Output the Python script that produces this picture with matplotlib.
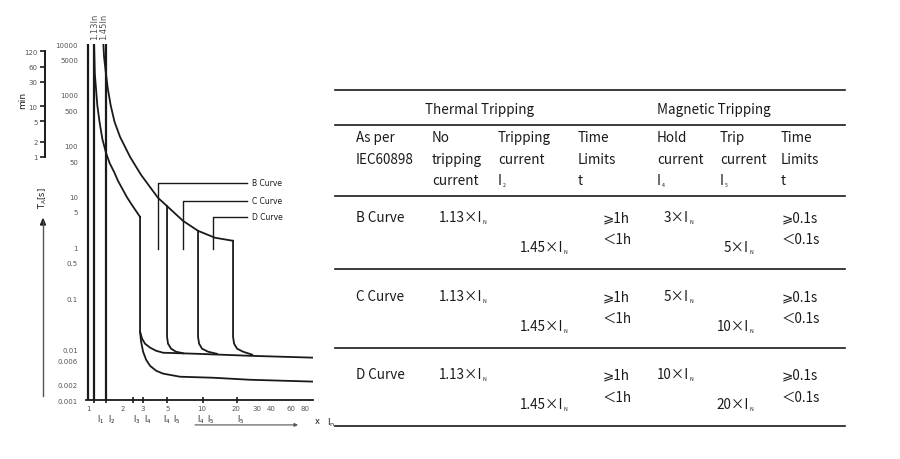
import matplotlib
matplotlib.use("Agg")
import matplotlib.pyplot as plt
from matplotlib.ticker import NullLocator, NullFormatter, FixedLocator
from matplotlib.transforms import blended_transform_factory

W, H = 900, 460
INK = "#1a1a1a"
GREY = "#555555"
TFONT = ["Noto Sans CJK SC", "DejaVu Sans"]

# ---- characteristic curves (current in multiples of In, time in s) ----
limit_lines = [1.0, 1.13, 1.45]

thermal_lo_i = [1.13, 1.147, 1.175, 1.207, 1.261, 1.335, 1.430, 1.544, 1.691,
                1.833, 2.000, 2.198, 2.447, 2.858]
thermal_lo_t = [10000, 2575, 1306, 614, 294, 136, 75.5, 45.9, 30.6,
                20.3, 14.2, 9.64, 6.65, 3.99]

thermal_hi_i = [1.362, 1.382, 1.430, 1.492, 1.582, 1.708, 1.909, 2.336, 2.917,
                4.11, 5.24, 6.81, 9.22, 13.0, 18.7]
thermal_hi_t = [10000, 5557, 2818, 1306, 614, 294, 149, 60.3, 26.7,
                9.43, 5.73, 3.33, 2.12, 1.55, 1.35]

# vertical magnetic drop from the lower thermal curve, then the fast tail
fast_i = [2.858, 2.858, 2.92, 3.04, 3.23, 3.50, 3.95, 4.55, 6.41, 12.5, 26.4, 94.2]
fast_t = [3.99, 0.022, 0.0140, 0.0089, 0.0062, 0.0047, 0.00377, 0.0033,
          0.00287, 0.00274, 0.0025, 0.0023]
slow_i = [2.858, 2.98, 3.16, 3.50, 3.95, 4.55, 9.04, 26.4, 94.2]
slow_t = [0.022, 0.016, 0.0128, 0.0107, 0.0093, 0.0085, 0.0081, 0.0074, 0.0068]

# magnetic drops from the upper thermal curve (5, 10, 20 x In)
mag5_i = [4.93, 4.93, 5.03, 5.35, 5.91, 6.81]
mag5_t = [6.48, 0.0175, 0.0128, 0.0102, 0.0089, 0.0083]
mag10_i = [9.22, 9.22, 9.42, 10.0, 11.3, 13.5]
mag10_t = [2.12, 0.0175, 0.0128, 0.0102, 0.0089, 0.0081]
mag20_i = [18.7, 18.7, 19.1, 20.3, 22.9, 27.5]
mag20_t = [1.35, 0.0175, 0.0128, 0.0102, 0.0089, 0.0078]

# leader lines to the curve names
curve_names = ["B Curve", "C Curve", "D Curve"]
leader_i = [4.11, 6.81, 12.5]
leader_t = [18.6, 8.24, 3.99]
leader_low_t = 0.94
leader_end_i = 24.9
name_i = 27.3

# axes ticks
y_ticks = [10000, 5000, 1000, 500, 100, 50, 10, 5, 1, 0.5, 0.1, 0.01, 0.006, 0.002, 0.001]
y_labels = ["10000", "5000", "1000", "500", "100", "50", "10", "5", "1", "0.5",
            "0.1", "0.01", "0.006", "0.002", "0.001"]
min_ticks = [120, 60, 30, 10, 5, 2, 1]
x_ticks = [1, 2, 3, 5, 10, 20, 30, 40, 60, 80]
x_marks = [1, 1.13, 1.45, 2.5, 3.04, 4.93, 10.2, 20.3]
i_labels = ["1", "2", "3", "4", "4", "5", "4", "5", "5"]
i_label_x = [1.207, 1.507, 2.50, 3.10, 4.58, 5.60, 8.98, 11.0, 20.2]
top_labels = ["1.13In", "1.45In"]
top_label_x = [1.15, 1.38]

# ---- table content ----
no_trip = ["1.13", "1.13", "1.13"]
trip_cur = ["1.45", "1.45", "1.45"]
hold_cur = ["3", "5", "10"]
mag_trip = ["5", "10", "20"]
thermal_lim = ["⩾1h", "＜1h"]
magnetic_lim = ["⩾0.1s", "＜0.1s"]

fig = plt.figure(figsize=(W / 100, H / 100), dpi=100)

ax = fig.add_axes([85.5 / W, 1 - 401 / H, 227.5 / W, 356 / H])
ax.set_xscale("log")
ax.set_yscale("log")
ax.set_xlim(0.95, 94)
ax.set_ylim(0.001, 10000)
ax.patch.set_alpha(0)
for s in ["top", "right", "left"]:
    ax.spines[s].set_visible(False)
ax.spines["bottom"].set_linewidth(1.3)
ax.spines["bottom"].set_color(INK)

ax.yaxis.set_major_locator(FixedLocator(y_ticks))
ax.set_yticklabels(y_labels)
ax.yaxis.set_minor_locator(NullLocator())
ax.tick_params(axis="y", length=0, pad=5.4, labelsize=5, labelcolor=GREY)

ax.xaxis.set_major_locator(FixedLocator(x_ticks))
ax.set_xticklabels([str(v) for v in x_ticks])
ax.xaxis.set_minor_locator(FixedLocator(x_marks))
ax.xaxis.set_minor_formatter(NullFormatter())
ax.tick_params(axis="x", which="major", length=0, pad=3.6, labelsize=5, labelcolor=GREY)
ax.tick_params(axis="x", which="minor", length=5, width=1.2, direction="inout", color=INK)

for v in limit_lines:
    ax.axvline(v, color=INK, lw=1.6)

lw = 1.3
ax.plot(thermal_lo_i, thermal_lo_t, color=INK, lw=lw)
ax.plot(thermal_hi_i, thermal_hi_t, color=INK, lw=lw)
ax.plot(fast_i, fast_t, color=INK, lw=lw)
ax.plot(slow_i, slow_t, color=INK, lw=lw)
for xs, ts in [(mag5_i, mag5_t), (mag10_i, mag10_t), (mag20_i, mag20_t)]:
    ax.plot(xs, ts, color=INK, lw=lw)

for name, li, lt in zip(curve_names, leader_i, leader_t):
    ax.plot([li, li, leader_end_i], [leader_low_t, lt, lt], color=INK, lw=1.0)
    ax.text(name_i, lt, name, fontsize=5.5, color=INK, va="center", ha="left")

bt = blended_transform_factory(ax.transData, ax.transAxes)
for lab, xv in zip(top_labels, top_label_x):
    ax.text(xv, 1.013, lab, transform=bt, rotation=90, fontsize=6, color=GREY,
            ha="center", va="bottom", clip_on=False)
for lab, xv in zip(i_labels, i_label_x):
    ax.text(xv, -0.053, r"$\mathregular{I_{%s}}$" % lab, transform=bt, fontsize=5.5,
            color=INK, ha="left", va="center", clip_on=False)
ax.annotate("", xy=(69.5, -0.070), xytext=(8.67, -0.070), xycoords=bt, textcoords=bt,
            arrowprops=dict(arrowstyle="-|>", color=GREY, lw=0.8,
                            mutation_scale=5, shrinkA=0, shrinkB=0))
fig.text(317 / W, 1 - 422 / H, "x", fontsize=6, color=INK, ha="center", va="center")
fig.text(327 / W, 1 - 423 / H, r"$\mathregular{I_n}$", fontsize=6.5, color=INK,
         ha="left", va="center")

# minutes scale
ax2 = fig.add_axes([44.5 / W, 1 - 401 / H, 0.001, 356 / H])
ax2.set_yscale("log")
ax2.set_ylim(0.001, 10000)
ax2.patch.set_alpha(0)
for s in ["top", "right", "bottom"]:
    ax2.spines[s].set_visible(False)
ax2.spines["left"].set_bounds(60, 7200)
ax2.spines["left"].set_linewidth(1.4)
ax2.spines["left"].set_color(INK)
ax2.set_xticks([])
ax2.yaxis.set_major_locator(FixedLocator([m * 60 for m in min_ticks]))
ax2.set_yticklabels([str(m) for m in min_ticks])
ax2.yaxis.set_minor_locator(NullLocator())
ax2.tick_params(axis="y", length=3.6, width=1.2, color=INK, pad=1.5,
                labelsize=5, labelcolor=GREY)
fig.text(23 / W, 1 - 100 / H, "min", rotation=90, fontsize=6.5, color=INK,
         ha="center", va="center")
fig.text(43 / W, 1 - 198 / H, r"$\mathregular{T_A}$[s]", rotation=90, fontsize=6,
         color=INK, ha="center", va="center")
fig.add_artist(plt.Line2D([43 / W, 43 / W], [1 - 397 / H, 1 - 222 / H], color=GREY, lw=1.0))
fig.patches.append(matplotlib.patches.FancyArrow(
    43 / W, 1 - 226 / H, 0, 6 / H, width=0.0001, head_width=5 / W, head_length=6 / H,
    length_includes_head=True, color=INK, transform=fig.transFigure, figure=fig))

# ---- table ----
TS = 9.7
SUB = 3.8
renderer = fig.canvas.get_renderer()


def ttext(x, y, s, ha="left"):
    return fig.text(x / W, 1 - y / H, s, fontsize=TS, family=TFONT, color=INK,
                    ha=ha, va="baseline")


def sub_text(x, y, main, sub, ha="left"):
    s = fig.text(0, 0, sub, fontsize=SUB, family=TFONT, color=INK, va="baseline")
    sw = s.get_window_extent(renderer).width
    if ha == "right":
        x = x - sw - 0.5
    t = ttext(x, y, main, ha=ha)
    bb = t.get_window_extent(renderer)
    s.set_position(((bb.x1 + 0.5) / W, (H - y - 2) / H))


for yl in [91, 126, 197, 270, 349, 427]:
    fig.add_artist(plt.Line2D([335 / W, 845 / W], [1 - yl / H, 1 - yl / H], color=INK, lw=1.2))

ttext(479.5, 114.3, "Thermal Tripping", ha="center")
ttext(714, 114.3, "Magnetic Tripping", ha="center")

hb = [142.3, 163.6, 185]
ttext(356, hb[0], "As per")
ttext(356, hb[1], "IEC60898")
ttext(432, hb[0], "No")
ttext(432, hb[1], "tripping")
ttext(432, hb[2], "current")
ttext(498, hb[0], "Tripping")
ttext(498, hb[1], "current")
sub_text(498, hb[2], "I", "2")
ttext(578, hb[0], "Time")
ttext(578, hb[1], "Limits")
ttext(578, hb[2], "t")
ttext(657, hb[0], "Hold")
ttext(657, hb[1], "current")
sub_text(657, hb[2], "I", "4")
ttext(720, hb[0], "Trip")
ttext(720, hb[1], "current")
sub_text(720, hb[2], "I", "5")
ttext(781, hb[0], "Time")
ttext(781, hb[1], "Limits")
ttext(781, hb[2], "t")

row_base = [222, 301, 379.5]
for k, yb in enumerate(row_base):
    ttext(356, yb, curve_names[k])
    sub_text(439, yb, no_trip[k] + "×I", "N")
    sub_text(520, yb + 30, trip_cur[k] + "×I", "N")
    ttext(603, yb, thermal_lim[0])
    ttext(603, yb + 22, thermal_lim[1])
    sub_text(693, yb, hold_cur[k] + "×I", "N", ha="right")
    sub_text(753, yb + 30, mag_trip[k] + "×I", "N", ha="right")
    ttext(782, yb, magnetic_lim[0])
    ttext(782, yb + 22, magnetic_lim[1])

fig.savefig("out.png", dpi=100)
